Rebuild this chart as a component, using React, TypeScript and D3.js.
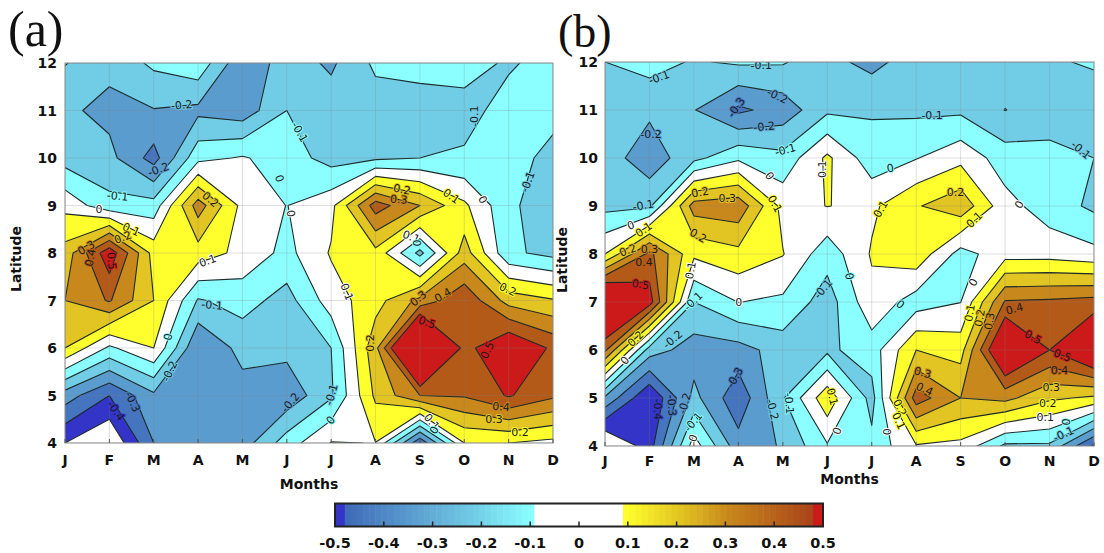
import React, { useEffect } from "react";
import * as d3 from "d3";

const months = ["J","F","M","A","M","J","J","A","S","O","N","D"];
const lats = [12,11,10,9,8,7,6,5,4];

const gridA = [
  [-.095,-.17,-.08,-.03,-.28,-.15,-.217,-.08,-.07,-.07,-.11,-.07],
  [-.18,-.23,-.205,-.225,-.26,-.10,-.15,-.15,-.14,-.127,-.07,-.07],
  [-.143,-.17,-.34,-.03,.01,-.05,-.14,-.12,-.10,-.09,-.06,-.13],
  [.07,-.07,-.06,.35,.07,-.002,.07,.45,.30,.12,-.08,-.16],
  [.24,.57,.16,.155,.07,-.03,.11,.17,-.13,.25,-.08,-.13],
  [.30,.41,.20,-.11,-.06,-.14,.05,.16,.33,.48,.26,.21],
  [.20,-.02,.10,-.30,-.165,-.17,-.10,.27,.93,.46,.62,.48],
  [-.25,-.40,-.22,-.28,-.243,-.27,-.115,.22,.40,.41,.51,.42],
  [-.50,-.60,-.30,-.30,-.25,-.05,.105,.098,-.38,.10,.10,.07],
];
const gridB = [
  [-.10,-.06,-.11,-.085,-.09,-.17,-.23,-.15,-.15,-.14,-.11,-.09],
  [-.198,-.18,-.195,-.32,-.26,-.12,-.11,-.12,-.12,-.202,-.15,-.15],
  [-.15,-.26,-.13,-.02,-.07,.12,-.06,-.005,.07,-.05,-.07,-.10],
  [-.13,-.12,.347,.37,.066,.102,.08,.19,.27,.035,-.05,-.12],
  [.10,.43,.12,.17,.105,-.06,.11,.17,-.04,.06,.06,.03],
  [.77,.55,-.10,.002,-.02,-.15,.07,-.05,-.002,.41,.42,.44],
  [.42,-.15,-.25,-.24,-.155,-.12,-.05,.20,.16,.70,.50,.70],
  [-.22,-.50,-.17,-.37,-.11,.17,-.14,.45,.30,.33,.22,.18],
  [-.63,-.447,.05,-.26,-.19,-.01,-.07,.09,.07,-.12,-.12,-.42],
];

const levels = [-.5,-.4,-.3,-.2,-.1,0,.1,.2,.3,.4,.5];
const bandColors = ["#3434c8","#4575bf","#5b9ccf","#71cde6","#8bffff","#ffffff","#ffff2d","#e2c522","#c8881c","#b35a18","#cc1a1a"];
const barTicks = [-.5,-.4,-.3,-.2,-.1,0,.1,.2,.3,.4,.5];
const barStopsCold = ["#3f6cb8","#5b9ccf","#71cde6","#8bffff"];
const barStopsWarm = ["#ffff2d","#e2c522","#c8881c","#a8401a"];

type L = [number, number, string, number];
const labelsA: L[] = [
  [510,315,"-0.2",-5],[445,508,"-0.2",-20],[330,588,"-0.1",5],[278,628,"0",0],[368,688,"0.1",25],[345,712,"0.2",-20],
  [243,743,"0.3",-30],[255,772,"0.4",-80],[313,782,"0.5",85],[590,598,"0.2",40],[583,782,"0.1",-20],[783,535,"0",70],
  [840,395,"-0.1",60],[815,640,"0",80],[1330,348,"-0.1",-90],[1480,545,"-0.1",-70],[1353,598,"0",60],[1265,588,"0.1",35],
  [1127,568,"0.2",10],[1118,598,"0.3",5],[1153,710,"0.1",20],[1168,728,"0",90],[972,875,"0.1",70],[1173,895,"0.3",-40],
  [1242,885,"0.4",-30],[1197,967,"0.5",20],[1423,868,"0.2",25],[1367,1050,"0.5",-65],[1040,1028,"0.2",-90],[1405,1220,"0.4",5],
  [1385,1257,"0.3",0],[1458,1296,"0.2",0],[1210,1265,"0.1",50],[1218,1290,"0",-60],[595,915,"-0.1",5],[473,1010,"0",-80],
  [477,1113,"-0.2",-65],[815,1207,"-0.2",-50],[930,1183,"-0.1",-75],[928,1260,"0",-50],[372,1205,"-0.3",65],[325,1232,"-0.4",55],
];
const labelsB: L[] = [
  [308,232,"-0.1",-20],[597,197,"-0.1",0],[642,288,"-0.2",25],[527,322,"-0.3",-55],[605,380,"-0.2",-5],[285,403,"-0.2",0],
  [1080,345,"-0.1",0],[1500,450,"-0.1",40],[665,450,"-0.1",-15],[770,508,"0.1",-90],[620,528,"0",55],[962,505,"0",-10],
  [1146,578,"0.2",0],[424,578,"0.2",-10],[501,595,"0.3",0],[635,612,"0.1",60],[935,628,"0.1",-60],[1327,614,"0",-60],
  [263,617,"-0.1",-10],[228,677,"0",-20],[265,690,"0.1",-35],[418,708,"0.2",30],[1200,660,"0.1",-45],[220,752,"0.2",-20],
  [281,748,"0.3",0],[265,787,"0.4",0],[398,812,"0.1",-80],[255,855,"0.5",10],[845,830,"0",80],[772,868,"-0.1",-50],
  [533,908,"0",0],[405,905,"-0.1",-45],[990,915,"0",40],[1197,848,"0",-60],[1313,928,"0.4",-15],[1187,940,"0.1",-80],
  [1215,955,"0.2",-80],[1243,965,"0.3",-80],[1365,1013,"0.5",30],[1448,1068,"0.5",20],[1440,1113,"0.4",0],[1417,1165,"0.3",0],
  [1407,1212,"0.2",0],[1400,1253,"0.1",0],[1460,1268,"0",-85],[1452,1305,"-0.1",-25],[242,1018,"0.2",-45],[347,1020,"-0.2",-40],
  [212,1083,"0",-50],[523,1135,"-0.3",-60],[381,1212,"-0.2",-75],[343,1218,"-0.3",85],[303,1230,"-0.4",90],[405,1268,"-0.1",-50],
  [405,1317,"0",-70],[628,1230,"-0.2",75],[675,1212,"-0.1",85],[797,1192,"0.1",75],[812,1295,"0",-70],[952,1297,"0",90],
  [988,1225,"0.2",65],[985,1265,"0.1",65],[1053,1120,"0.3",15],[1058,1170,"0.4",25],
];

const sans = "'DejaVu Sans', sans-serif";

function Panel({ id, grid, labels, x0, x1, y0, y1, lab, labX, labY, labSize, zoomX, zoomY, xTitleY, yTitleX, tickDy, latDx }: any) {
  const x = d3.scaleLinear().domain([0, 11]).range([x0, x1]);
  const y = d3.scaleLinear().domain([12, 4]).range([y0, y1]);
  const flat = (grid as number[][]).flat();
  const gen = d3.contours().size([12, 9]).thresholds(levels);
  const conts = gen(flat);
  const path = d3.geoPath(d3.geoTransform({
    point(px: number, py: number) {
      (this as any).stream.point(x(px - 0.5), y(12 - (py - 0.5)));
    },
  }));
  const valueAt = (m: number, la: number) => {
    const cx = Math.max(0, Math.min(10.999, m));
    const cy = Math.max(0, Math.min(7.999, 12 - la));
    const i = Math.floor(cx), j = Math.floor(cy);
    const fx = cx - i, fy = cy - j;
    const g = grid as number[][];
    return (g[j][i] * (1 - fx) + g[j][i + 1] * fx) * (1 - fy) + (g[j + 1][i] * (1 - fx) + g[j + 1][i + 1] * fx) * fy;
  };
  const bandOf = (v: number) => {
    let c = "#ffffff";
    levels.forEach((t, i) => { if (v >= t) c = bandColors[i]; });
    return c;
  };
  return (
    <g>
      <clipPath id={id}><rect x={x0} y={y0} width={x1 - x0} height={y1 - y0} /></clipPath>
      <rect x={x0} y={y0} width={x1 - x0} height={y1 - y0} fill="#fff" />
      <g clipPath={`url(#${id})`}>
        {conts.map((c: any, i: number) => (
          <path key={i} d={path(c) as string} fill={bandColors[i]} stroke="#1c2a2a" strokeWidth={1.1} strokeLinejoin="round" />
        ))}
        {months.map((_, i) => <line key={i} x1={x(i)} x2={x(i)} y1={y0} y2={y1} stroke="#808080" strokeOpacity={0.25} strokeWidth={1} />)}
        {lats.map((l) => <line key={l} x1={x0} x2={x1} y1={y(l)} y2={y(l)} stroke="#808080" strokeOpacity={0.25} strokeWidth={1} />)}
        {(labels as L[]).map((d, i) => {
          const m = (d[0] - zoomX[0]) / zoomX[1];
          const la = 12 - (d[1] - zoomY[0]) / zoomY[1];
          return (
            <text key={i} transform={`translate(${x(m)},${y(la)}) rotate(${d[3]})`} textAnchor="middle" dominantBaseline="central"
              fontFamily={sans} fontSize={11} fill="#1a1a1a" stroke={bandOf(valueAt(m, la))} strokeWidth={2} paintOrder="stroke">{d[2]}</text>
          );
        })}
      </g>
      <rect x={x0} y={y0} width={x1 - x0} height={y1 - y0} fill="none" stroke="#8a8a8a" strokeWidth={1} />
      {months.map((m, i) => (
        <g key={i}>
          <line x1={x(i)} x2={x(i)} y1={y1} y2={y1 - 4} stroke="#555" />
          <text x={x(i)} y={y1 + tickDy} textAnchor="middle" fontFamily={sans} fontWeight="bold" fontSize={14} fill="#111">{m}</text>
        </g>
      ))}
      {lats.map((l) => (
        <text key={l} x={x0 - latDx} y={y(l) + 5} textAnchor="end" fontFamily={sans} fontWeight="bold" fontSize={14} fill="#111">{l}</text>
      ))}
      <text x={(x0 + x1) / 2} y={xTitleY} textAnchor="middle" fontFamily={sans} fontWeight="bold" fontSize={14} fill="#111">Months</text>
      <text transform={`translate(${yTitleX},${(y0 + y1) / 2 + 6}) rotate(-90)`} textAnchor="middle" fontFamily={sans} fontWeight="bold" fontSize={14} fill="#111">Latitude</text>
      <text x={labX} y={labY} fontFamily="'Liberation Serif', serif" fontSize={labSize} fill="#111">{lab}</text>
    </g>
  );
}

function ColorBar() {
  const bx = d3.scaleLinear().domain([-.5, .5]).range([335, 823]);
  const top = 503.5, h = 23;
  const cold = d3.scaleLinear<string>().domain([-.48, -.35, -.22, -.1]).range(barStopsCold);
  const warm = d3.scaleLinear<string>().domain([.09, .2, .3, .48]).range(barStopsWarm);
  const steps = d3.range(-.48, -.1, 0.0125);
  const stepsW = d3.range(.09, .48, 0.0125);
  const stepW = bx(.0125) - bx(0) + .5;
  return (
    <g>
      <rect x={bx(-.5)} y={top} width={bx(.5) - bx(-.5)} height={h} fill="#fff" />
      <rect x={bx(-.5)} y={top} width={bx(-.48) - bx(-.5) + .5} height={h} fill="#3434c8" />
      {steps.map((s, i) => <rect key={i} x={bx(s)} y={top} width={stepW} height={h} fill={cold(s)} />)}
      {stepsW.map((s, i) => <rect key={i} x={bx(s)} y={top} width={stepW} height={h} fill={warm(s)} />)}
      <rect x={bx(.48)} y={top} width={bx(.5) - bx(.48)} height={h} fill="#cc1a1a" />
      <rect x={bx(-.5)} y={top} width={bx(.5) - bx(-.5)} height={h} fill="none" stroke="#222" strokeWidth={2} />
      {barTicks.map((t) => (
        <g key={t}>
          {Math.abs(t) < .45 && <line x1={bx(t)} x2={bx(t)} y1={top + h} y2={top + h - 5} stroke="#222" strokeWidth={1.5} />}
          <text x={bx(t)} y={548} textAnchor="middle" fontFamily={sans} fontWeight="bold" fontSize={14.5} fill="#111">{Math.abs(t) < 1e-9 ? "0" : d3.format(".1f")(t).replace("−", "-")}</text>
        </g>
      ))}
    </g>
  );
}

export default function App() {
  useEffect(() => { document.body.style.margin = "0"; document.body.style.background = "#fff"; }, []);
  return (
    <svg width={1104} height={553} style={{ display: "block", position: "absolute", left: 0, top: 0 }}>
      <Panel id="clipA" grid={gridA} labels={labelsA} x0={65} x1={553} y0={63} y1={443} lab="(a)" labX={8} labY={46} labSize={50}
        zoomX={[183, 124.3]} zoomY={[188, 142.5]} xTitleY={489} yTitleX={21} tickDy={22} latDx={8} />
      <Panel id="clipB" grid={gridB} labels={labelsB} x0={605} x1={1094} y0={62} y1={446} lab="(b)" labX={558} labY={47} labSize={46}
        zoomX={[155, 125.7]} zoomY={[185, 144.4]} xTitleY={484} yTitleX={567} tickDy={20} latDx={7} />
      <ColorBar />
    </svg>
  );
}
